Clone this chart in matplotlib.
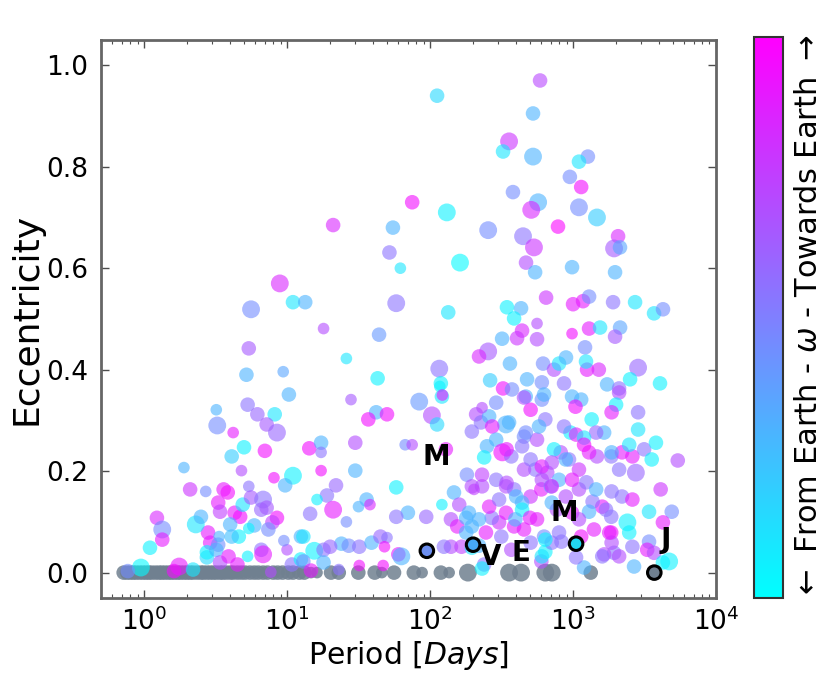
import numpy as np
import matplotlib
matplotlib.use("Agg")
import matplotlib.pyplot as plt
from matplotlib.colors import Normalize
from matplotlib.cm import ScalarMappable

# ---------------- data (period in days, eccentricity, omega colour 0..1, mass class) -------------
# upper, sparse region
period_upper = [588, 112, 525, 357, 324, 525, 1270, 1100, 950, 1140,
                380, 75, 570, 510, 1100, 1470, 131, 21, 55, 255,
                447, 785, 2065, 1936, 2130, 533, 52, 62, 162, 469,
                543, 984, 1967, 8.9]
ecc_upper = [0.97, 0.94, 0.905, 0.85, 0.83, 0.82, 0.82, 0.81, 0.78, 0.76,
             0.75, 0.73, 0.73, 0.715, 0.72, 0.70, 0.71, 0.685, 0.68, 0.675,
             0.663, 0.682, 0.663, 0.639, 0.641, 0.641, 0.631, 0.60, 0.611, 0.611,
             0.592, 0.602, 0.592, 0.57]
omega_upper = [0.72, 0.15, 0.3, 0.8, 0.1, 0.3, 0.45, 0.1, 0.45, 0.95,
               0.45, 0.95, 0.3, 0.85, 0.45, 0.2, 0.05, 0.85, 0.3, 0.45,
               0.55, 0.98, 0.85, 0.65, 0.35, 0.8, 0.55, 0.1, 0.02, 0.7,
               0.3, 0.3, 0.3, 0.85]
mass_upper = [2, 2, 2, 3, 2, 3, 2, 2, 2, 2,
              2, 2, 3, 3, 3, 3, 3, 2, 2, 3,
              3, 2, 2, 3, 2, 3, 2, 1, 3, 2,
              2, 2, 2, 3]

# middle band (e ~ 0.34 - 0.55)
period_mid = [11, 13.4, 5.6, 58, 134, 18, 44, 5.4, 26, 255,
              220, 319, 116, 43, 119, 263, 324, 5.2, 9.4, 10.3,
              28, 84, 345, 433, 387, 560, 440, 406, 560, 648,
              1000, 1175, 1295, 1905, 2715, 3685, 4257, 984, 1294, 1545,
              2133, 1967, 1213, 362, 477, 617, 736, 798, 893, 865,
              1253, 1515, 1232, 2850, 2505, 4056, 1730, 2098, 605, 374,
              467, 605, 984, 1140, 2100, 117, 121, 122]
ecc_mid = [0.533, 0.533, 0.519, 0.531, 0.513, 0.481, 0.469, 0.442, 0.422, 0.436,
           0.426, 0.461, 0.402, 0.383, 0.373, 0.379, 0.363, 0.39, 0.396, 0.351,
           0.341, 0.337, 0.523, 0.521, 0.501, 0.491, 0.477, 0.462, 0.46, 0.542,
           0.529, 0.535, 0.544, 0.533, 0.533, 0.511, 0.519, 0.471, 0.481, 0.483,
           0.483, 0.465, 0.444, 0.412, 0.381, 0.412, 0.40, 0.412, 0.424, 0.373,
           0.40, 0.40, 0.416, 0.404, 0.381, 0.373, 0.371, 0.363, 0.375, 0.361,
           0.347, 0.341, 0.347, 0.341, 0.355, 0.367, 0.347, 0.35]
omega_mid = [0.1, 0.3, 0.45, 0.55, 0.1, 0.7, 0.4, 0.65, 0.1, 0.65,
             0.85, 0.3, 0.55, 0.05, 0.05, 0.2, 0.95, 0.3, 0.35, 0.3,
             0.65, 0.4, 0.05, 0.3, 0.05, 0.7, 0.85, 0.8, 0.7, 0.8,
             0.9, 0.9, 0.45, 0.55, 0.1, 0.1, 0.45, 0.95, 0.9, 0.1,
             0.35, 0.65, 0.45, 0.3, 0.3, 0.45, 0.7, 0.1, 0.3, 0.55,
             0.9, 0.85, 0.1, 0.6, 0.05, 0.05, 0.3, 0.55, 0.45, 0.45,
             0.3, 0.45, 0.3, 0.3, 0.7, 0.05, 0.1, 0.9]
mass_mid = [2, 2, 3, 3, 2, 1, 2, 2, 1, 3,
            2, 2, 3, 2, 2, 2, 2, 2, 1, 2,
            1, 3, 2, 2, 2, 1, 2, 2, 2, 2,
            2, 2, 2, 2, 2, 2, 2, 1, 2, 2,
            2, 2, 2, 2, 2, 2, 2, 2, 2, 2,
            2, 2, 2, 3, 2, 2, 2, 2, 2, 2,
            2, 2, 2, 2, 2, 1, 2, 1]

# lower left (short periods)
period_left = [3.2, 5.3, 6.2, 8.2, 7.2, 8.5, 3.25, 4.2, 5.0, 4.1,
               7.0, 4.8, 1.9, 11, 9.7, 8.1, 2.1, 2.7, 3.6, 3.85,
               3.3, 3.4, 4.3, 4.7, 4.9, 5.4, 5.6, 6.8, 6.6, 7.2,
               8.5, 7.9, 7.4, 5.9, 5.4, 4.6, 4.0, 4.1, 2.8, 2.9,
               3.3, 3.35, 2.3, 2.5, 1.23, 1.34, 1.34, 1.1, 0.95, 0.77,
               1.76, 1.62, 2.2, 2.75, 2.75, 3.2, 3.4, 3.9, 4.5, 5.3,
               6.6, 6.8, 10, 9.5, 12.5, 10.8, 12.5, 7.7]
ecc_left = [0.321, 0.331, 0.312, 0.312, 0.292, 0.276, 0.29, 0.276, 0.247, 0.229,
            0.24, 0.201, 0.207, 0.191, 0.172, 0.187, 0.164, 0.16, 0.164, 0.158,
            0.138, 0.12, 0.118, 0.11, 0.134, 0.17, 0.148, 0.144, 0.124, 0.128,
            0.108, 0.099, 0.085, 0.093, 0.087, 0.071, 0.095, 0.071, 0.079, 0.059,
            0.055, 0.071, 0.095, 0.11, 0.108, 0.085, 0.065, 0.049, 0.01, 0.003,
            0.012, 0.003, 0.006, 0.03, 0.04, 0.045, 0.02, 0.032, 0.016, 0.032,
            0.045, 0.036, 0.045, 0.063, 0.071, 0.016, 0.026, 0.001]
omega_left = [0.3, 0.55, 0.6, 0.1, 0.65, 0.6, 0.45, 0.9, 0.05, 0.2,
              0.95, 0.7, 0.3, 0.05, 0.3, 0.95, 0.8, 0.45, 0.9, 0.95,
              0.9, 0.75, 0.9, 0.95, 0.1, 0.55, 0.65, 0.55, 0.6, 0.65,
              0.95, 0.75, 0.45, 0.3, 0.05, 0.05, 0.3, 0.25, 0.9, 0.9,
              0.45, 0.3, 0.1, 0.3, 0.85, 0.45, 0.9, 0.05, 0.02, 0.45,
              0.9, 0.95, 0.1, 0.15, 0.05, 0.3, 0.7, 0.9, 0.9, 0.05,
              0.55, 0.9, 0.7, 0.45, 0.3, 0.55, 0.05, 0.7]
mass_left = [1, 2, 2, 2, 2, 3, 3, 1, 2, 2,
             2, 1, 1, 3, 2, 1, 2, 1, 2, 2,
             2, 2, 2, 2, 2, 1, 2, 3, 2, 2,
             2, 2, 2, 2, 1, 2, 2, 2, 2, 2,
             2, 1, 3, 2, 2, 3, 2, 2, 3, 2,
             3, 2, 2, 2, 2, 2, 2, 2, 2, 1,
             2, 3, 1, 1, 2, 2, 2, 1]

# lower, tens of days
period_tens = [14.3, 17.3, 17.3, 17.3, 30, 30, 67, 75, 58, 22,
               19, 16.2, 21, 14.5, 26, 31.6, 36, 38, 70, 58,
               94, 24, 27, 32, 39, 45, 50, 48, 60, 63,
               47, 32, 15.5, 18, 20, 18, 13, 14.7, 23, 13,
               42, 37, 50]
ecc_tens = [0.245, 0.256, 0.237, 0.201, 0.256, 0.201, 0.252, 0.252, 0.168, 0.172,
            0.152, 0.144, 0.124, 0.116, 0.10, 0.13, 0.144, 0.134, 0.118, 0.11,
            0.11, 0.057, 0.053, 0.051, 0.059, 0.071, 0.069, 0.051, 0.036, 0.032,
            0.014, 0.014, 0.043, 0.045, 0.051, 0.02, 0.022, 0.004, 0.006, 0.071,
            0.316, 0.302, 0.312]
omega_tens = [0.95, 0.3, 0.55, 0.95, 0.7, 0.3, 0.45, 0.7, 0.05, 0.6,
              0.55, 0.05, 0.9, 0.55, 0.45, 0.3, 0.3, 0.85, 0.3, 0.55,
              0.6, 0.3, 0.45, 0.55, 0.3, 0.6, 0.55, 0.95, 0.9, 0.3,
              0.95, 0.95, 0.05, 0.55, 0.6, 0.3, 0.45, 0.9, 0.55, 0.1,
              0.3, 0.95, 0.95]
mass_tens = [2, 2, 1, 1, 2, 2, 1, 1, 2, 2,
             2, 1, 3, 2, 1, 1, 2, 1, 2, 2,
             2, 2, 2, 2, 2, 2, 1, 1, 2, 3,
             1, 1, 3, 2, 2, 2, 2, 2, 1, 2,
             2, 2, 2]

# centre, hundreds of days
period_centre = [103, 112, 129, 121, 140, 155, 147, 160, 179, 196,
                 181, 196, 231, 231, 290, 246, 220, 315, 304, 270,
                 239, 231, 140, 125, 166, 196, 179, 210, 227, 196,
                 259, 231, 290, 340, 272, 290, 250, 239, 320, 203,
                 187, 220, 259, 304, 340, 340]
ecc_centre = [0.31, 0.292, 0.243, 0.134, 0.105, 0.091, 0.158, 0.134, 0.108, 0.091,
              0.193, 0.17, 0.17, 0.193, 0.183, 0.079, 0.053, 0.071, 0.099, 0.108,
              0.016, 0.008, 0.051, 0.051, 0.051, 0.049, 0.079, 0.312, 0.296, 0.278,
              0.308, 0.325, 0.335, 0.292, 0.288, 0.262, 0.249, 0.227, 0.237, 0.164,
              0.118, 0.105, 0.13, 0.144, 0.17, 0.118]
omega_centre = [0.7, 0.15, 0.9, 0.05, 0.7, 0.9, 0.3, 0.7, 0.3, 0.3,
                0.45, 0.7, 0.7, 0.75, 0.55, 0.9, 0.3, 0.55, 0.8, 0.55,
                0.55, 0.05, 0.7, 0.55, 0.75, 0.1, 0.3, 0.7, 0.55, 0.55,
                0.3, 0.7, 0.45, 0.3, 0.9, 0.3, 0.3, 0.05, 0.95, 0.75,
                0.3, 0.3, 0.9, 0.55, 0.7, 0.9]
mass_centre = [3, 2, 2, 1, 2, 2, 2, 2, 2, 2,
               2, 2, 2, 2, 2, 2, 2, 2, 2, 2,
               2, 2, 2, 2, 2, 2, 2, 2, 2, 2,
               2, 1, 2, 3, 2, 2, 2, 2, 3, 1,
               2, 2, 2, 2, 2, 2]

# right, thousands of days (part a)
period_right = [5400, 4100, 4900, 4250, 3400, 2400, 2470, 1850, 1600, 1370,
                1294, 1140, 3400, 3300, 3685, 2600, 2670, 4700, 4250, 1936,
                1650, 1194, 1050, 830, 798, 627, 600, 640, 505, 454,
                387, 370, 560, 770, 505, 387, 440, 600, 700, 1100,
                1100, 937, 820, 660, 545, 454, 343, 370, 454, 560,
                736, 343, 1470, 1850, 2100, 2750, 2600, 2200, 3140, 3550,
                3800, 2850, 2470, 2850, 2000, 1350, 1650, 1450, 960, 1050,
                1194, 865, 1040, 627, 505, 454, 357, 640]
ecc_right = [0.221, 0.164, 0.12, 0.099, 0.12, 0.099, 0.079, 0.079, 0.13, 0.14,
             0.12, 0.071, 0.061, 0.045, 0.039, 0.051, 0.012, 0.022, 0.02, 0.039,
             0.036, 0.01, 0.03, 0.061, 0.079, 0.071, 0.022, 0.041, 0.059, 0.085,
             0.091, 0.045, 0.105, 0.124, 0.15, 0.164, 0.138, 0.164, 0.17, 0.164,
             0.203, 0.223, 0.237, 0.197, 0.203, 0.203, 0.177, 0.229, 0.268, 0.262,
             0.243, 0.243, 0.229, 0.229, 0.203, 0.197, 0.229, 0.237, 0.243, 0.223,
             0.256, 0.282, 0.252, 0.316, 0.331, 0.302, 0.276, 0.276, 0.276, 0.272,
             0.266, 0.288, 0.327, 0.351, 0.321, 0.345, 0.296, 0.302]
omega_right = [0.7, 0.8, 0.45, 0.9, 0.1, 0.05, 0.05, 0.95, 0.9, 0.55,
               0.3, 0.95, 0.45, 0.9, 0.7, 0.55, 0.3, 0.05, 0.05, 0.55,
               0.7, 0.3, 0.55, 0.55, 0.55, 0.45, 0.7, 0.05, 0.55, 0.9,
               0.9, 0.7, 0.9, 0.7, 0.8, 0.55, 0.3, 0.9, 0.3, 0.7,
               0.8, 0.55, 0.7, 0.7, 0.55, 0.7, 0.7, 0.55, 0.45, 0.7,
               0.05, 0.9, 0.7, 0.55, 0.55, 0.6, 0.9, 0.9, 0.55, 0.05,
               0.05, 0.1, 0.1, 0.55, 0.05, 0.05, 0.3, 0.6, 0.05, 0.9,
               0.1, 0.55, 0.95, 0.3, 0.95, 0.7, 0.3, 0.55]
mass_right = [2, 2, 2, 2, 2, 3, 2, 2, 2, 2,
              2, 2, 2, 2, 2, 2, 2, 3, 2, 2,
              2, 2, 2, 2, 2, 2, 2, 2, 2, 2,
              2, 2, 2, 2, 2, 2, 2, 2, 2, 2,
              2, 2, 2, 2, 2, 2, 2, 2, 2, 2,
              2, 2, 2, 2, 2, 3, 2, 2, 2, 2,
              2, 2, 2, 2, 2, 2, 2, 2, 2, 2,
              2, 2, 2, 2, 2, 2, 2, 2]

# right, part b
period_right_b = [440, 467, 578, 505, 605, 710, 890, 798, 710, 984,
                  1240, 1450, 1700, 1860, 2200, 2600, 1850, 400, 440, 395,
                  500, 605, 710, 890, 984, 1100, 1400, 710, 640, 605,
                  1860, 1790, 2100, 1600, 1860, 1860, 1294, 1194]
ecc_right_b = [0.249, 0.276, 0.288, 0.223, 0.209, 0.217, 0.223, 0.183, 0.17, 0.183,
               0.178, 0.164, 0.124, 0.16, 0.15, 0.144, 0.11, 0.15, 0.124, 0.105,
               0.108, 0.183, 0.138, 0.15, 0.118, 0.105, 0.085, 0.059, 0.065, 0.032,
               0.059, 0.079, 0.032, 0.032, 0.316, 0.237, 0.237, 0.252]
omega_right_b = [0.55, 0.45, 0.3, 0.55, 0.9, 0.7, 0.3, 0.3, 0.9, 0.9,
                 0.55, 0.3, 0.55, 0.55, 0.55, 0.9, 0.55, 0.3, 0.05, 0.3,
                 0.9, 0.7, 0.3, 0.7, 0.9, 0.7, 0.9, 0.55, 0.05, 0.1,
                 0.7, 0.9, 0.7, 0.55, 0.9, 0.3, 0.9, 0.95]
mass_right_b = [2] * 38

# circular orbits (no omega) drawn in grey
period_circular = [0.72, 0.76, 0.8, 0.84, 0.88, 0.93, 0.98, 1.03, 1.08, 1.13,
                   1.2, 1.27, 1.33, 1.4, 1.48, 1.55, 1.63, 1.72, 1.8, 1.9,
                   2.0, 2.1, 2.2, 2.35, 2.5, 2.6, 2.75, 2.9, 3.05, 3.2,
                   3.4, 3.55, 3.75, 4.0, 4.2, 4.5, 4.8, 5.1, 5.5, 5.9,
                   6.3, 6.8, 7.3, 8.0, 8.6, 9.3, 10.2, 11, 12.2, 13.2,
                   14.7, 16.2, 20.3, 23, 31.5, 41, 46, 56, 77, 88,
                   119, 136, 184, 357, 433, 640, 710, 1330]
mass_circular = [2, 2, 2, 2, 2, 2, 2, 2, 2, 2,
                 2, 2, 2, 2, 2, 2, 2, 2, 2, 2,
                 2, 2, 2, 2, 2, 2, 2, 2, 2, 2,
                 2, 2, 2, 2, 2, 2, 2, 2, 2, 2,
                 2, 2, 2, 2, 2, 2, 2, 2, 2, 2,
                 1, 1, 2, 2, 2, 2, 1, 2, 2, 1,
                 2, 1, 3, 3, 3, 3, 3, 2]

# highlighted objects with black outlines
period_marked = [95, 200, 1050, 3700]
ecc_marked = [0.043, 0.055, 0.057, 0.0]
color_marked = ['#6d8ff0', '#47a8f5', '#22d8f2', '#708090']

# solar-system labels
label_text = ['M', 'V', 'E', 'M', 'J']
label_period = [110, 267, 433, 865, 4470]
label_ecc = [0.227, 0.03, 0.039, 0.118, 0.065]

# ---------------- assemble ----------------
period = np.concatenate([period_upper, period_mid, period_left, period_tens,
                         period_centre, period_right, period_right_b])
ecc = np.concatenate([ecc_upper, ecc_mid, ecc_left, ecc_tens,
                      ecc_centre, ecc_right, ecc_right_b])
omega = np.concatenate([omega_upper, omega_mid, omega_left, omega_tens,
                        omega_centre, omega_right, omega_right_b])
mass = np.concatenate([mass_upper, mass_mid, mass_left, mass_tens,
                       mass_centre, mass_right, mass_right_b])

size_map = {1: 70, 2: 110, 3: 165}
sizes = np.array([size_map[int(m)] for m in mass])
sizes_circ = np.array([size_map[int(m)] for m in mass_circular])

plt.rcParams['font.family'] = ['DejaVu Sans']

fig = plt.figure(figsize=(8.3, 6.95), dpi=100)
ax = fig.add_axes([0.1217, 0.1396, 0.741, 0.803])

ax.scatter(period_circular, np.zeros(len(period_circular)), s=sizes_circ,
           c='#708090', alpha=0.85, edgecolors='none', zorder=2)
ax.scatter(period, ecc, c=omega, cmap='cool', vmin=0, vmax=1, s=sizes,
           alpha=0.6, edgecolors='none', zorder=3)
ax.scatter(period_marked, ecc_marked, s=95, c=color_marked,
           edgecolors='black', linewidths=2.2, zorder=5)
for t, p, e in zip(label_text, label_period, label_ecc):
    ax.text(p, e, t, fontsize=20, fontweight='bold', ha='center', va='center',
            color='black', zorder=6)

ax.set_xscale('log')
ax.set_xlim(0.5, 1e4)
ax.set_ylim(-0.05, 1.05)
ax.set_yticks([0.0, 0.2, 0.4, 0.6, 0.8, 1.0])
ax.set_yticklabels(['0.0', '0.2', '0.4', '0.6', '0.8', '1.0'])
ax.tick_params(which='both', direction='in', top=True, right=True,
               labelsize=19, color='0.3')
ax.tick_params(axis='y', pad=9)
ax.tick_params(axis='x', pad=7)
ax.tick_params(which='major', length=6, width=1)
ax.tick_params(which='minor', length=3, width=0.8)
for sp in ax.spines.values():
    sp.set_linewidth(2)
    sp.set_color('0.4')

ax.set_xlabel(r'Period $[Days]$', fontsize=21.5, labelpad=2)
ax.set_ylabel('Eccentricity', fontsize=26, labelpad=2)

cax = fig.add_axes([0.9084, 0.1396, 0.035, 0.807])
sm = ScalarMappable(norm=Normalize(0, 1), cmap='cool')
cb = fig.colorbar(sm, cax=cax)
cb.set_ticks([])
cb.outline.set_linewidth(1.5)
cb.outline.set_edgecolor('0.2')
cb.set_label(r'$\leftarrow$ From Earth - $\omega$ - Towards Earth $\rightarrow$',
             fontsize=22, labelpad=8)

fig.savefig('out.png', dpi=100, facecolor='white')
